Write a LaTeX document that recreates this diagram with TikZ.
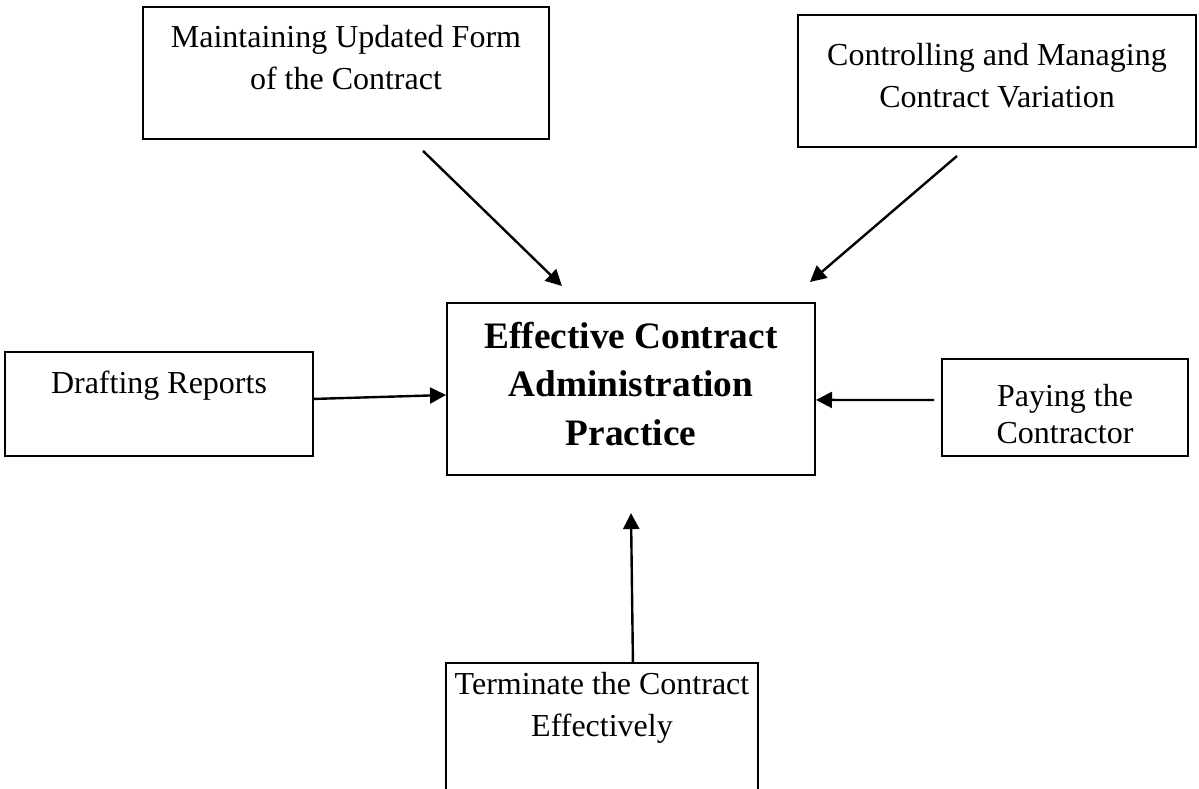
\documentclass[tikz,border=0pt]{standalone}
\usepackage{fontspec}
\setmainfont{Liberation Serif}
\usetikzlibrary{arrows.meta}

% box text that starts at the top edge: height, width, first baseline, lines
\newcommand{\boxtext}[4]{\parbox[c][#1][t]{#2}{\centering\rule{0pt}{#3}#4}}

\begin{document}
\begin{tikzpicture}[
  x=0.375pt, y=-0.375pt,
  box/.style={draw, line width=0.75pt, inner sep=0pt, font=\fontsize{12}{16}\selectfont},
  edge/.style={-{Triangle[length=6pt,width=6pt]}, line width=0.9pt}
]
\useasboundingbox (0,0) rectangle (1199,789);
\node[box, font=\fontsize{14}{18.2}\selectfont\bfseries] (admin) at (631,389) {\boxtext{64.5pt}{138pt}{16.9pt}{Effective Contract\\Administration\\Practice}};
\node[box] (maint) at (346,73) {\boxtext{49.5pt}{152.25pt}{15pt}{Maintaining Updated Form\\of the Contract}};
\node[box, font=\fontsize{12}{15.75}\selectfont] (ctrl) at (997,81) {\boxtext{49.5pt}{149.25pt}{18.75pt}{Controlling and Managing\\Contract Variation}};
\node[box] (draft) at (159,404) {\boxtext{39pt}{115.5pt}{15.4pt}{Drafting Reports}};
\node[box, font=\fontsize{12}{13.8}\selectfont] (pay) at (1065,407.5) {\boxtext{36.4pt}{92.25pt}{18pt}{Paying the\\Contractor}};
\node[box, font=\fontsize{12}{15.75}\selectfont] (term) at (602,741.5) {\boxtext{58.9pt}{117pt}{12pt}{Terminate the Contract\\Effectively}};
\draw[edge] ([xshift=28.9pt,yshift=-4.1pt]maint.south) -- ([xshift=-25.9pt,yshift=6pt]admin.north);
\draw[edge] ([xshift=-15pt,yshift=-3pt]ctrl.south) -- ([xshift=-2.25pt,yshift=7.5pt]admin.north east);
\draw[edge] ([yshift=1.9pt]draft.east) -- ([yshift=-2.25pt]admin.west);
\draw[edge] ([xshift=-2.6pt,yshift=2.8pt]pay.west) -- ([yshift=-4.1pt]admin.east);
\draw[edge] ([xshift=11.6pt]term.north) -- ([yshift=-13.9pt]admin.south);
\end{tikzpicture}
\end{document}
